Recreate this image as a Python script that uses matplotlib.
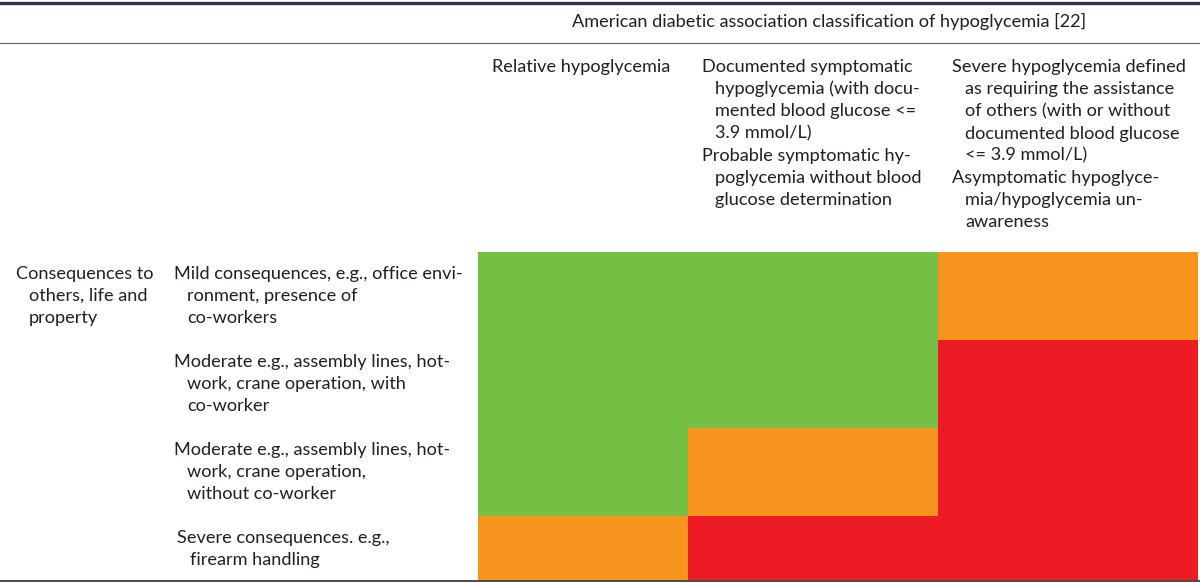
import matplotlib.pyplot as plt
from matplotlib.colors import ListedColormap

# ====== TABLE CONTENT ======
title = "American diabetic association classification of hypoglycemia [22]"

# column headers: each entry is a list of paragraphs, each paragraph a list of lines
col_headers = [
    [["Relative hypoglycemia"]],
    [["Documented symptomatic", "hypoglycemia (with docu-", "mented blood glucose <=", "3.9 mmol/L)"],
     ["Probable symptomatic hy-", "poglycemia without blood", "glucose determination"]],
    [["Severe hypoglycemia defined", "as requiring the assistance", "of others (with or without",
      "documented blood glucose", "<= 3.9 mmol/L)"],
     ["Asymptomatic hypoglyce-", "mia/hypoglycemia un-", "awareness"]],
]

group_label = ["Consequences to", "others, life and", "property"]

row_labels = [
    ["Mild consequences, e.g., office envi-", "ronment, presence of", "co-workers"],
    ["Moderate e.g., assembly lines, hot-", "work, crane operation, with", "co-worker"],
    ["Moderate e.g., assembly lines, hot-", "work, crane operation,", "without co-worker"],
    ["Severe consequences. e.g.,", "firearm handling"],
]

# risk level per cell: 0 = green, 1 = orange, 2 = red
risk = [
    [0, 0, 1],
    [0, 0, 2],
    [0, 1, 2],
    [1, 2, 2],
]

# ====== LAYOUT (pixel coordinates) ======
col_edges = [478, 688, 938, 1198]
row_edges = [251.5, 339.5, 428, 516, 580]
col_text_x = [492, 702, 952]
row_text_x = [174, 174, 174, 177]

FONT = "Lato"
FS = 13.1
TXT = "#231f20"
STEP = 22.2
INDENT = 13

fig = plt.figure(figsize=(12, 5.82), dpi=100)
ax = fig.add_axes([0, 0, 1, 1])
ax.set_xlim(0, 1200)
ax.set_ylim(582, 0)
ax.axis("off")

cmap = ListedColormap(["#74c044", "#f7941d", "#ed1c24"])
ax.pcolormesh(col_edges, row_edges, risk, cmap=cmap, vmin=0, vmax=2)


def draw_lines(x, y, lines, indent=INDENT):
    for i, line in enumerate(lines):
        ax.text(x + (indent if i else 0), y + i * STEP, line, va="baseline", ha="left",
                fontsize=FS, family=FONT, color=TXT)
    return y + len(lines) * STEP


# rules
ax.axhline(3, color="#33334a", lw=2.4)
ax.axhline(42.5, color="#6a6a6a", lw=0.9)
ax.axhline(580.5, color="#3a3a3a", lw=1.3)

ax.text(572, 27, title, va="baseline", ha="left", fontsize=FS, family=FONT, color=TXT)

for x, paras in zip(col_text_x, col_headers):
    y = 72
    for p in paras:
        y = draw_lines(x, y, p)

draw_lines(16, row_edges[0] + 27, group_label)
for x, top, lines in zip(row_text_x, row_edges[:-1], row_labels):
    draw_lines(x, top + 27, lines)

fig.savefig("out.png", dpi=100)
